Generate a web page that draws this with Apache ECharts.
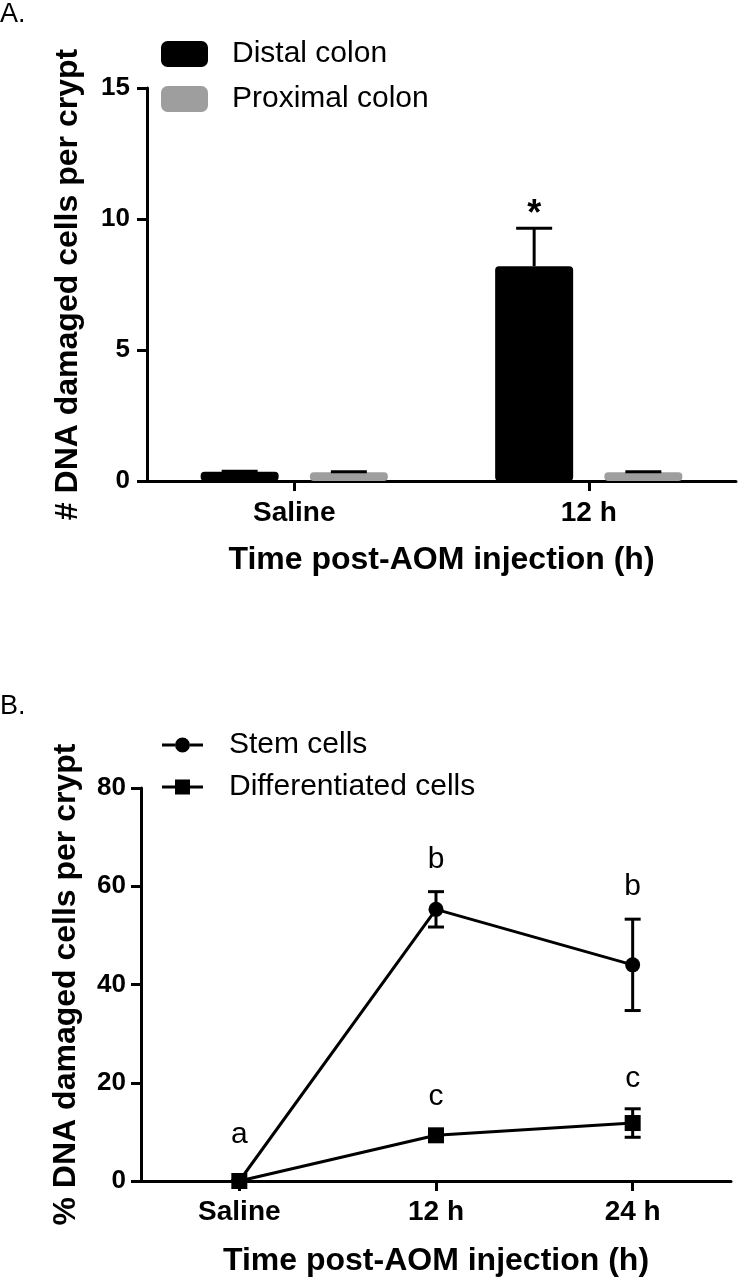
<!DOCTYPE html>
<html>
<head>
<meta charset="utf-8">
<script src="https://cdn.jsdelivr.net/npm/echarts@6/dist/echarts.min.js"></script>
<style>
  html, body { margin: 0; padding: 0; background: #fff; }
  #main { width: 739px; height: 1280px; }
</style>
</head>
<body>
<div id="main"></div>
<script>
// panel A - bars
var catsA = ["Saline", "12 h"];
var distal = [0.35, 8.2];
var distalErr = [0.02, 1.45];
var distalSig = ["", "*"];
var proximal = [0.33, 0.33];
var proximalErr = [0.02, 0.02];

// panel B - lines
var catsB = ["Saline", "12 h", "24 h"];
var stem = [0, 55.3, 44.0];
var stemErr = [0, 3.6, 9.3];
var diff = [0, 9.3, 11.8];
var diffErr = [0, 0.8, 2.9];
var letterCat = [0, 1, 2, 1, 2];
var letterText = ["a", "b", "b", "c", "c"];
var letterY = [9.4, 65.3, 59.8, 17.1, 20.8];

var FONT = "Arial, 'Liberation Sans', sans-serif";
var chart = echarts.init(document.getElementById("main"), null, { renderer: "canvas" });

var BAR_W = 78;
var BAR_OFF = (BAR_W + BAR_W * 0.4) / 2;

// legend icons: thick line with the marker in the middle
var ICON_CIRCLE = "path://M0,6L13,6L13,9L0,9Z M28,6L41,6L41,9L28,9Z M13,7.5A7.5,7.5 0 1 1 28,7.5A7.5,7.5 0 1 1 13,7.5Z";
var ICON_SQUARE = "path://M0,6L13,6L13,9L0,9Z M28,6L41,6L41,9L28,9Z M13,0L28,0L28,15L13,15Z";

// upward-only error bar, GraphPad style
function barErr(offset) {
  return function (params, api) {
    var i = api.value(0);
    var lo = api.coord([i, api.value(1)]);
    var hi = api.coord([i, api.value(2)]);
    var x = lo[0] + offset;
    var kids = [
      { type: "line", shape: { x1: x, y1: lo[1], x2: x, y2: hi[1] }, style: { stroke: "#000", lineWidth: 3 } },
      { type: "line", shape: { x1: x - 18, y1: hi[1], x2: x + 18, y2: hi[1] }, style: { stroke: "#000", lineWidth: 3 } }
    ];
    var sig = distalSig[i];
    if (offset < 0 && sig) {
      kids.push({
        type: "text",
        style: { x: x, y: hi[1] - 13, text: sig, fill: "#000", font: "bold 36px " + FONT, textAlign: "center", textVerticalAlign: "middle" }
      });
    }
    return { type: "group", children: kids };
  };
}

function lineErr(params, api) {
  var i = api.value(0);
  var lo = api.coord([i, api.value(1)]);
  var hi = api.coord([i, api.value(2)]);
  var w = 8;
  var st = { stroke: "#000", lineWidth: 3 };
  return {
    type: "group",
    children: [
      { type: "line", shape: { x1: lo[0], y1: lo[1], x2: hi[0], y2: hi[1] }, style: st },
      { type: "line", shape: { x1: lo[0] - w, y1: lo[1], x2: lo[0] + w, y2: lo[1] }, style: st },
      { type: "line", shape: { x1: hi[0] - w, y1: hi[1], x2: hi[0] + w, y2: hi[1] }, style: st }
    ]
  };
}

function letterItem(params, api) {
  var p = api.coord([api.value(0), api.value(1)]);
  return {
    type: "text",
    style: { x: p[0], y: p[1], text: letterText[params.dataIndex], fill: "#000", font: "30px " + FONT, textAlign: "center", textVerticalAlign: "middle" }
  };
}

var axisLine = { show: true, lineStyle: { color: "#000", width: 3 } };
var axisTick = { show: true, length: 10, lineStyle: { color: "#000", width: 3 } };

function legendOpt(name, left, top, w, h, pad, icon) {
  var lg = {
    data: [name], left: left, top: top, padding: 0, orient: "vertical",
    itemWidth: w, itemHeight: h, selectedMode: false,
    textStyle: { fontFamily: FONT, fontSize: 30, color: "#000", lineHeight: 30, padding: [0, 0, 0, pad] }
  };
  if (icon) {
    lg.icon = icon;
    lg.itemStyle = { color: "#000", borderWidth: 0 };
  }
  return lg;
}

var option = {
  animation: false,
  backgroundColor: "#fff",
  title: [
    { text: "A.", left: 0, top: 1, padding: 0, textStyle: { fontFamily: FONT, fontSize: 27, fontWeight: "normal", color: "#000" } },
    { text: "B.", left: 0, top: 693, padding: 0, textStyle: { fontFamily: FONT, fontSize: 27, fontWeight: "normal", color: "#000" } }
  ],
  legend: [
    legendOpt("Distal colon", 161, 39, 47, 26, 19),
    legendOpt("Proximal colon", 161, 84, 47, 26, 19),
    legendOpt("Stem cells", 162, 730, 41, 15, 21, ICON_CIRCLE),
    legendOpt("Differentiated cells", 162, 772, 41, 15, 21, ICON_SQUARE)
  ],
  grid: [
    { left: 147, top: 88, width: 589, height: 393 },
    { left: 141, top: 788, width: 590, height: 393 }
  ],
  xAxis: [
    {
      gridIndex: 0, type: "category", data: catsA,
      axisLine: axisLine, axisTick: Object.assign({ alignWithLabel: true }, axisTick),
      axisLabel: { fontFamily: FONT, fontSize: 28, fontWeight: "bold", color: "#000", margin: 18 },
      name: "Time post-AOM injection (h)", nameLocation: "middle", nameGap: 63,
      nameTextStyle: { fontFamily: FONT, fontSize: 32, fontWeight: "bold", color: "#000" }
    },
    {
      gridIndex: 1, type: "category", data: catsB,
      axisLine: axisLine, axisTick: Object.assign({ alignWithLabel: true }, axisTick),
      axisLabel: { fontFamily: FONT, fontSize: 28, fontWeight: "bold", color: "#000", margin: 17 },
      name: "Time post-AOM injection (h)", nameLocation: "middle", nameGap: 64,
      nameTextStyle: { fontFamily: FONT, fontSize: 32, fontWeight: "bold", color: "#000" }
    }
  ],
  yAxis: [
    {
      gridIndex: 0, type: "value", min: 0, max: 15, interval: 5,
      axisLine: axisLine, axisTick: axisTick, splitLine: { show: false },
      axisLabel: { fontFamily: FONT, fontSize: 26, fontWeight: "bold", color: "#000", margin: 17 },
      name: "# DNA damaged cells per crypt", nameLocation: "middle", nameGap: 63, nameRotate: 90,
      nameTextStyle: { fontFamily: FONT, fontSize: 32, fontWeight: "bold", color: "#000" }
    },
    {
      gridIndex: 1, type: "value", min: 0, max: 80, interval: 20,
      axisLine: axisLine, axisTick: axisTick, splitLine: { show: false },
      axisLabel: { fontFamily: FONT, fontSize: 26, fontWeight: "bold", color: "#000", margin: 15 },
      name: "% DNA damaged cells per crypt", nameLocation: "middle", nameGap: 59, nameRotate: 90,
      nameTextStyle: { fontFamily: FONT, fontSize: 32, fontWeight: "bold", color: "#000" }
    }
  ],
  series: [
    {
      name: "Distal colon", type: "bar", xAxisIndex: 0, yAxisIndex: 0,
      data: distal, barWidth: BAR_W, barGap: "40%",
      itemStyle: { color: "#000", borderRadius: 4 }
    },
    {
      name: "Proximal colon", type: "bar", xAxisIndex: 0, yAxisIndex: 0,
      data: proximal, barWidth: BAR_W, barGap: "40%",
      itemStyle: { color: "#9e9e9e", borderRadius: 4 }
    },
    {
      type: "custom", xAxisIndex: 0, yAxisIndex: 0, z: 5,
      renderItem: barErr(-BAR_OFF),
      encode: { x: 0, y: [1, 2] },
      data: distal.map(function (v, i) { return [i, v, v + distalErr[i]]; })
    },
    {
      type: "custom", xAxisIndex: 0, yAxisIndex: 0, z: 5,
      renderItem: barErr(BAR_OFF),
      encode: { x: 0, y: [1, 2] },
      data: proximal.map(function (v, i) { return [i, v, v + proximalErr[i]]; })
    },
    {
      type: "custom", xAxisIndex: 1, yAxisIndex: 1, z: 3,
      renderItem: lineErr,
      encode: { x: 0, y: [1, 2] },
      data: stem.map(function (v, i) { return [i, v - stemErr[i], v + stemErr[i]]; })
    },
    {
      type: "custom", xAxisIndex: 1, yAxisIndex: 1, z: 3,
      renderItem: lineErr,
      encode: { x: 0, y: [1, 2] },
      data: diff.map(function (v, i) { return [i, v - diffErr[i], v + diffErr[i]]; })
    },
    {
      name: "Stem cells", type: "line", xAxisIndex: 1, yAxisIndex: 1, z: 4,
      data: stem, symbol: "circle", symbolSize: 15, showAllSymbol: true,
      lineStyle: { color: "#000", width: 3 }, itemStyle: { color: "#000" }
    },
    {
      name: "Differentiated cells", type: "line", xAxisIndex: 1, yAxisIndex: 1, z: 4,
      data: diff, symbol: "rect", symbolSize: 16, showAllSymbol: true,
      lineStyle: { color: "#000", width: 3 }, itemStyle: { color: "#000" }
    },
    {
      type: "custom", xAxisIndex: 1, yAxisIndex: 1, z: 6,
      renderItem: letterItem,
      encode: { x: 0, y: 1 },
      data: letterCat.map(function (c, i) { return [c, letterY[i]]; })
    }
  ]
};

chart.setOption(option);
window.addEventListener("resize", chart.resize);
</script>
</body>
</html>
